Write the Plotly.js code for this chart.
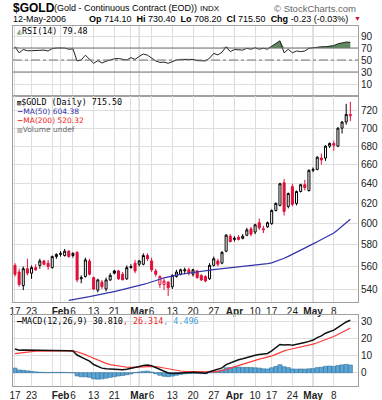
<!DOCTYPE html>
<html><head><meta charset="utf-8">
<script src="https://cdn.plot.ly/plotly-3.0.1.min.js"></script>
<style>html,body{margin:0;padding:0;background:#fff;overflow:hidden}#chart{width:382px;height:400px}</style>
</head><body><div id="chart"></div>
<script>
// ---- data ----
const dates = [
 '2006-01-17','2006-01-18','2006-01-19','2006-01-20','2006-01-23','2006-01-24','2006-01-25','2006-01-26','2006-01-27','2006-01-30','2006-01-31',
 '2006-02-01','2006-02-02','2006-02-03','2006-02-06','2006-02-07','2006-02-08','2006-02-09','2006-02-10','2006-02-13','2006-02-14','2006-02-15','2006-02-16','2006-02-17','2006-02-21','2006-02-22','2006-02-23','2006-02-24','2006-02-27','2006-02-28',
 '2006-03-01','2006-03-02','2006-03-03','2006-03-06','2006-03-07','2006-03-08','2006-03-09','2006-03-10','2006-03-13','2006-03-14','2006-03-15','2006-03-16','2006-03-17','2006-03-20','2006-03-21','2006-03-22','2006-03-23','2006-03-24','2006-03-27','2006-03-28','2006-03-29','2006-03-30','2006-03-31',
 '2006-04-03','2006-04-04','2006-04-05','2006-04-06','2006-04-07','2006-04-10','2006-04-11','2006-04-12','2006-04-13','2006-04-17','2006-04-18','2006-04-19','2006-04-20','2006-04-21','2006-04-24','2006-04-25','2006-04-26','2006-04-27','2006-04-28',
 '2006-05-01','2006-05-02','2006-05-03','2006-05-04','2006-05-05','2006-05-08','2006-05-09','2006-05-10','2006-05-11','2006-05-12'];
const open  = [561,555,543,558,554,559,561,565,563,559,569, 571,570,574,570,573,549,551,565,550,539,546,540,548,556,556,553,549,559,563, 562,562,570,565,556,544,544,546,542,551,553,556,557,553,556,552,551,549,561,565,563,574,588, 585,587,586,589,595,592,601,594,597,600,613,618,641,617,637,620,632,639,633, 654,655,667,667,680,683,680,700,707,714.1];
const high  = [563,558,560,567,561,562,567,566,566,570,572, 574,576,575,573,574,552,568,567,551,549,548,550,554,557,557,555,561,562,566, 566,572,572,568,558,552,549,547,553,557,558,559,559,558,557,553,552,563,569,567,574,590,590, 588,589,590,596,597,600,605,598,602,614,621,641,645,631,640,633,640,644,655, 657,669,672,681,684,686,701,708,728,730.4];
const low   = [551,542,539,552,549,556,558,561,557,558,567, 569,569,568,568,546,545,550,552,539,537,540,538,547,553,548,549,548,558,554, 560,561,565,555,551,541,539,534,540,550,552,553,552,551,549,547,546,548,560,560,562,573,582, 583,584,585,588,588,590,594,591,596,599,612,617,608,615,617,618,631,633,632, 652,654,660,664,678,675,679,694,704,708.2];
const close = [553,544,558,554,559,557,565,562,560,569,571, 572,574,569,572,548,550,566,553,540,548,542,548,552,554,549,548,559,560,556, 565,570,567,557,553,551,547,541,552,555,557,557,554,557,550,548,547,561,567,562,573,589,583, 586,585,588,594,590,599,596,595,601,613,620,640,612,630,619,632,639,636,654, 655,668,665,680,683,681,700,707,715.73,715.5];
const ma50 = [null,null,null,null,null,null,null,null,null,null,null,null,null,
 530.2,531.0,531.6,532.2,532.8,533.4,534.0,534.7,535.4,536.2,537.0,537.8,538.6,539.4,540.2,541.1,542.0,543.0,544.0,545.0,546.0,547.3,548.6,549.8,550.8,551.6,552.3,553.0,553.6,554.1,554.6,555.1,555.6,556.2,556.8,557.2,557.6,558.0,558.4,558.8,559.1,559.4,559.7,560.1,560.5,561.0,561.5,562.0,562.6,563.3,564.5,566.0,567.5,569.2,571.0,572.9,574.8,576.8,578.8,580.8,582.8,584.8,586.8,588.9,591.0,594.2,597.5,600.9,604.38];
const rsi = [72,62,67.5,65.5,65.5,65.5,66,66.5,65,69,70, 69.5,70,68,68.5,48.5,50,58,52,44.5,49,45,48,50,52,52.5,51,50,54,51, 56,60,58,53,48.5,46,46.5,44.5,47,50,51,51,51,51,49,48.5,48.5,53,61,58.5,63,72,64, 67.5,67,66.5,69.5,68,70.5,68,69.5,68,73,77.8,82,62,68,62,65,64,65,69.5, 70.5,71.5,72,72,73,74,77,79,80,79.48];
const macd = [13.9,13.2,13.3,13.3,13.2,13.1,13.0,13.0,12.9,13.0,13.0, 13.0,13.0,12.9,12.8,10.4,9.2,8.2,6.8,4.8,3.6,2.7,2.3,2.1,2.0,1.9,1.8,2.0,2.4,3.2, 3.6,4.2,4.5,4.1,3.0,1.7,0.6,-0.2,-0.4,-0.2,0.0,0.2,0.2,0.3,0.1,-0.1,-0.3,0.6,1.3,1.8,2.8,4.8,5.8, 6.8,7.6,8.2,9.0,9.6,10.3,10.7,10.9,11.3,12.8,14.5,16.6,16.3,16.5,16.2,16.6,17.3,17.7,18.4, 19.2,20.6,21.6,23.2,24.3,25.0,26.6,28.2,29.8,30.81];
const signal = [11.2,11.6,11.9,12.2,12.4,12.6,12.7,12.8,12.8,12.8,12.8, 12.8,12.8,12.8,12.8,12.3,11.6,10.6,9.5,8.4,7.4,6.3,5.5,4.8,4.3,3.8,3.4,3.2,3.1,3.1, 3.2,3.4,3.6,3.7,3.6,3.2,2.7,2.1,1.6,1.3,1.0,0.8,0.7,0.6,0.5,0.4,0.3,0.4,0.5,0.8,1.2,1.9,2.7, 3.5,4.3,5.1,5.9,6.6,7.4,8.0,8.6,9.1,9.9,10.8,11.9,12.8,13.5,14.0,14.5,15.1,15.6,16.1, 16.8,17.6,18.4,19.4,20.4,21.3,22.4,23.6,24.9,26.314];
const hist = [2.7,1.6,1.4,1.1,0.8,0.5,0.3,0.2,0.1,0.2,0.2, 0.2,0.2,0.1,0.0,-1.9,-2.4,-2.4,-2.7,-3.6,-3.8,-3.6,-3.2,-2.7,-2.3,-1.9,-1.6,-1.2,-0.7,0.1, 0.4,0.8,0.9,0.4,-0.6,-1.5,-2.1,-2.3,-2.0,-1.5,-1.0,-0.6,-0.5,-0.3,-0.4,-0.5,-0.6,0.2,0.8,1.0,1.6,2.9,3.1, 3.3,3.3,3.1,3.1,3.0,2.9,2.7,2.3,2.2,2.9,3.7,4.7,3.5,3.0,2.2,2.1,2.2,2.1,2.3, 2.4,3.0,3.2,3.8,3.9,3.7,4.2,4.6,4.9,4.496];
const tickDates  = ['2006-01-17','2006-01-23','2006-01-30','2006-02-01','2006-02-06','2006-02-13','2006-02-21','2006-02-27','2006-03-01','2006-03-06','2006-03-13','2006-03-20','2006-03-27','2006-04-03','2006-04-10','2006-04-17','2006-04-24','2006-05-01','2006-05-08'];
const tickLabels = ['17','23','','<b>Feb</b>','6','13','21','','<b>Mar</b>','6','13','20','27','<b>Apr</b>','10','17','24','<b>May</b>','8'];
const monthStarts = ['2006-02-01','2006-03-01','2006-04-03','2006-05-01'];
const priceTicks = [540,560,580,600,620,640,660,680,700,720];
const rsiTicks = [10,30,50,70,90];
const rsiLevels = [70,50,30];
const macdTicks = [0,10,20,30];

// ---- build ----
const W=382,H=400,ML=13,MR=24;
const PW=W-ML-MR;
const px=v=>(v-ML)/PW, py=v=>1-v/H;
const xi = dates.map((d,i)=>i);
const idx = d=>dates.indexOf(d);
const RED='#e0103a', BLK='#000';
const isRed = close.map((c,i)=> i===0 ? c<open[i] : c<close[i-1]);
function sub(arr,flag){return arr.filter((v,i)=>isRed[i]===flag);}
function candle(flag,col){
  return {type:'candlestick',xaxis:'x2',yaxis:'y2',x:sub(xi,flag),open:sub(open,flag),high:sub(high,flag),low:sub(low,flag),close:sub(close,flag),
    increasing:{line:{color:col,width:1},fillcolor:'#fff'},decreasing:{line:{color:col,width:1},fillcolor:col},whiskerwidth:0,hoverinfo:'skip',showlegend:false};
}
const traces=[
  {type:'scatter',mode:'lines',x:xi,y:xi.map(()=>rsiLevels[0]),line:{width:0,color:'rgba(0,0,0,0)'},xaxis:'x',yaxis:'y',hoverinfo:'skip'},
  {type:'scatter',mode:'lines',x:xi,y:rsi.map(v=>Math.max(v,rsiLevels[0])),fill:'tonexty',fillcolor:'#5f8a5f',line:{width:0,color:'rgba(0,0,0,0)'},xaxis:'x',yaxis:'y',hoverinfo:'skip'},
  {type:'scatter',mode:'lines',x:xi,y:rsi,line:{width:1,color:'#222'},xaxis:'x',yaxis:'y',hoverinfo:'skip'},
  {type:'scatter',mode:'lines',x:xi,y:ma50,line:{width:1.2,color:'#3333aa'},xaxis:'x2',yaxis:'y2',hoverinfo:'skip',connectgaps:false},
  candle(false,BLK), candle(true,RED),
  {type:'bar',x:xi,y:hist,marker:{color:'#5aa6d6',line:{color:'#2f6e9c',width:0.6}},xaxis:'x3',yaxis:'y3',hoverinfo:'skip'},
  {type:'scatter',mode:'lines',x:xi,y:signal,line:{width:1.2,color:'#ff3a3a'},xaxis:'x3',yaxis:'y3',hoverinfo:'skip'},
  {type:'scatter',mode:'lines',x:xi,y:macd,line:{width:1.5,color:'#111'},xaxis:'x3',yaxis:'y3',hoverinfo:'skip'}
];
const xr=[-0.48,82.85];
const tv=tickDates.map(idx);
const gridC='#dedede', lineC='#a0a0a0';
const tickFont={family:'Liberation Sans, Arial, sans-serif',size:10,color:'#222'};
function xa(anchor,labels){return {anchor:anchor,domain:[0,1],range:xr,tickmode:'array',tickvals:tv,ticktext:tickLabels,showticklabels:labels,ticks:'',tickangle:0,ticklabelstandoff:0,
  showgrid:true,gridcolor:gridC,gridwidth:1,showline:true,mirror:true,linecolor:lineC,linewidth:1,zeroline:false,tickfont:tickFont,fixedrange:true,rangeslider:{visible:false}};}
function ya(dom,range,ticks,type){return {domain:dom,range:range,type:type||'linear',side:'right',tickmode:'array',tickvals:ticks,ticktext:ticks.map(String),ticks:'',
  showgrid:true,gridcolor:gridC,showline:true,mirror:true,linecolor:lineC,linewidth:1,zeroline:false,tickfont:tickFont,fixedrange:true};}
const shapes=[];
monthStarts.forEach(d=>{['y','y2','y3'].forEach(yr=>{shapes.push({type:'line',xref:'x'+(yr==='y'?'':yr.slice(1)),yref:yr+' domain',x0:idx(d),x1:idx(d),y0:0,y1:1,line:{color:'#b8b8b8',width:1},layer:'below'});});});
rsiLevels.forEach(l=>shapes.push({type:'line',xref:'x domain',yref:'y',x0:0,x1:1,y0:l,y1:l,line:{color:'#777',width:1,dash:l===50?'dashdot':'solid'}}));

const F='Liberation Sans, Arial, sans-serif';
const M='DejaVu Sans Mono, monospace';
const V='DejaVu Sans, Verdana, sans-serif';
function ann(x,y,text,size,color,family,anchor){return {xref:'paper',yref:'paper',x:px(x),y:py(y),text:text,showarrow:false,xanchor:anchor||'left',yanchor:'middle',font:{size:size,color:color||'#000',family:family||F}};}
const annotations=[
  ann(11,8,'<b>$GOLD</b>',12,'#000'),
  ann(52,8,'(Gold - Continuous Contract (EOD))',9,'#000'),
  ann(198,8,'INDX',8,'#000'),
  ann(358,8,'© StockCharts.com',9.5,'#666',F,'right'),
  ann(11,19,'12-May-2006',9,'#000'),
  ann(350,19,'<b>Op</b> 714.10  <b>Hi</b> 730.40  <b>Lo</b> 708.20  <b>Cl</b> 715.50  <b>Chg</b> -0.23 (-0.03%)',9,'#000',F,'right'),
  ann(352,19,'▼',7,'#d0103a'),
  ann(15,31,'<span style="color:#5f8a5f">◭</span>RSI(14) 79.48',8.4,'#000',M),
  ann(15,102,'<span style="font-size:7px">▥</span>$GOLD (Daily) 715.50',8.4,'#000',M),
  ann(15,111,'<b>−</b>MA(50) 604.38',7.5,'#3333aa',V),
  ann(15,120,'<b>−</b>MA(200) 520.32',7.5,'#ee2222',V),
  ann(15,129,'<span style="font-size:6px">▥</span>Volume undef',7.5,'#666',V),
  ann(15,321,'<b>—</b>MACD(12,26,9) 30.810<span style="color:#ee2222">, 26.314</span><span style="color:#3fa0d8">, 4.496</span>',8.4,'#000',M)
];
const layout={width:W,height:H,margin:{l:ML,r:MR,t:0,b:0},paper_bgcolor:'#fff',plot_bgcolor:'#fff',showlegend:false,bargap:0,
  xaxis:xa('y',false), xaxis2:xa('y2',true), xaxis3:xa('y3',true),
  yaxis:ya([py(96),py(26)],[-10,106.7],rsiTicks),
  yaxis2:ya([py(302),py(96)],[Math.log10(528.8),Math.log10(737.3)],priceTicks,'log'),
  yaxis3:ya([py(386),py(315)],[-7.8,33.9],macdTicks),
  shapes:shapes, annotations:annotations};
Plotly.newPlot('chart',traces,layout,{staticPlot:true,displayModeBar:false});
</script></body></html>
